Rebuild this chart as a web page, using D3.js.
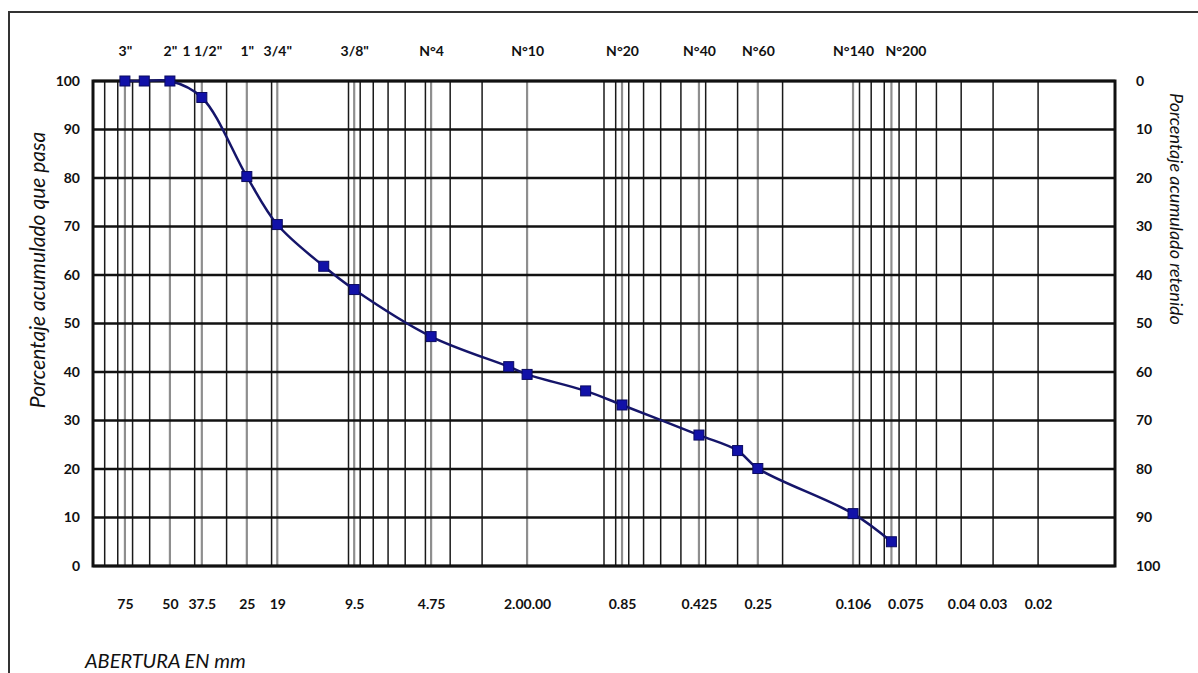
<!DOCTYPE html>
<html>
<head>
<meta charset="utf-8">
<script src="https://cdn.jsdelivr.net/npm/d3@7"></script>
<style>
  body { margin: 0; background: #fff; }
  svg { display: block; }
  .tick text { font-family: Lato, "Noto Sans", sans-serif; font-weight: bold; font-size: 14px; fill: #111; }
  .ttl { font-family: Lato, "Noto Sans", sans-serif; font-style: italic; fill: #111; }
</style>
</head>
<body>
<div id="chart"></div>
<script>
// sieve sizes (mm) and cumulative % passing
var sizes   = [75, 63, 50, 37.5, 25, 19, 12.5, 9.5, 4.75, 2.36, 2.00, 1.18, 0.85, 0.425, 0.30, 0.25, 0.106, 0.075];
var passing = [100, 100, 100, 96.6, 80.3, 70.4, 61.8, 57.0, 47.3, 41.1, 39.5, 36.1, 33.2, 27.0, 23.8, 20.1, 10.8, 5.0];

// sieves drawn as grey lines + top names
var sieveSizes = [75, 50, 37.5, 25, 19, 9.5, 4.75, 2.00, 0.85, 0.425, 0.25, 0.106, 0.075];
var sieveNames = ['3"', '2"', '1 1/2"', '1"', '3/4"', '3/8"', 'N°4', 'N°10', 'N°20', 'N°40', 'N°60', 'N°140', 'N°200'];

// bottom labels
var bottomVals   = [75, 50, 37.5, 25, 19, 9.5, 4.75, 2.00, 0.85, 0.425, 0.25, 0.106, 0.075, 0.04, 0.03, 0.02];
var bottomLabels = ["75", "50", "37.5", "25", "19", "9.5", "4.75", "2.00.00", "0.85", "0.425", "0.25", "0.106", "0.075", "0.04", "0.03", "0.02"];

var yTicks = [0, 10, 20, 30, 40, 50, 60, 70, 80, 90, 100];

var W = 1198, H = 673;
var pL = 93, pR = 1115, pT = 81, pB = 566;

var svg = d3.select("#chart").append("svg")
    .attr("width", W).attr("height", H);

svg.append("rect").attr("width", W).attr("height", H).attr("fill", "#fff");
// outer frame
svg.append("rect")
    .attr("x", 9).attr("y", 12).attr("width", W + 20).attr("height", H + 20)
    .attr("fill", "none").attr("stroke", "#333").attr("stroke-width", 2);

var x = d3.scaleLog().domain([100, 0.01]).range([pL, pR]);
var y = d3.scaleLinear().domain([0, 100]).range([pB, pT]);
var yR = d3.scaleLinear().domain([0, 100]).range([pT, pB]);

// log grid (black)
var logGrid = [];
for (var k = -2; k <= 1; k++) {
  for (var m = 1; m <= 9; m++) logGrid.push(m * Math.pow(10, k));
}
svg.append("g").selectAll("line").data(logGrid).enter().append("line")
    .attr("x1", d => x(d)).attr("x2", d => x(d))
    .attr("y1", pT).attr("y2", pB)
    .attr("stroke", "#1a1a1a").attr("stroke-width", 1.5);

// sieve lines (grey)
svg.append("g").selectAll("line").data(sieveSizes).enter().append("line")
    .attr("x1", d => x(d)).attr("x2", d => x(d))
    .attr("y1", pT).attr("y2", pB)
    .attr("stroke", "#8e8e8e").attr("stroke-width", 2.2);

// horizontal lines
svg.append("g").selectAll("line").data(yTicks).enter().append("line")
    .attr("x1", pL).attr("x2", pR)
    .attr("y1", d => y(d)).attr("y2", d => y(d))
    .attr("stroke", "#111").attr("stroke-width", 2.5);

svg.append("rect")
    .attr("x", pL).attr("y", pT).attr("width", pR - pL).attr("height", pB - pT)
    .attr("fill", "none").attr("stroke", "#111").attr("stroke-width", 3);

// axes
svg.append("g").attr("transform", "translate(" + (pL - 10) + ",0)")
    .call(d3.axisLeft(y).tickValues(yTicks).tickSize(0))
    .call(g => g.select(".domain").remove());

svg.append("g").attr("transform", "translate(" + (pR + 18) + ",0)")
    .call(d3.axisRight(yR).tickValues(yTicks).tickSize(0))
    .call(g => g.select(".domain").remove());

svg.append("g").attr("transform", "translate(0," + (pB + 30) + ")")
    .call(d3.axisBottom(x).tickValues(bottomVals).tickSize(0).tickFormat((d, i) => bottomLabels[i]))
    .call(g => g.select(".domain").remove())
    .selectAll("text").attr("dx", d => d === 0.075 ? 14 : 0);

svg.append("g").attr("transform", "translate(0," + (pT - 22) + ")")
    .call(d3.axisTop(x).tickValues(sieveSizes).tickSize(0).tickFormat((d, i) => sieveNames[i]))
    .call(g => g.select(".domain").remove())
    .selectAll("text").attr("dx", d => d === 0.075 ? 14 : 0);

// curve
var pts = sizes.map((s, i) => [x(s), y(passing[i])]);
svg.append("path")
    .attr("d", d3.line().curve(d3.curveCatmullRom.alpha(0.5))(pts))
    .attr("fill", "none").attr("stroke", "#15156a").attr("stroke-width", 2.5);

svg.append("g").selectAll("rect").data(pts).enter().append("rect")
    .attr("x", d => d[0] - 5).attr("y", d => d[1] - 5)
    .attr("width", 10).attr("height", 10)
    .attr("fill", "#1111a8").attr("stroke", "#0a0a60").attr("stroke-width", 1);

// titles
svg.append("text").attr("class", "ttl")
    .attr("transform", "translate(45,270) rotate(-90)")
    .attr("text-anchor", "middle").attr("font-size", 21)
    .text("Porcentaje acumulado que pasa");

svg.append("text").attr("class", "ttl")
    .attr("transform", "translate(1170,93) rotate(90)")
    .attr("text-anchor", "start").attr("font-size", 18)
    .text("Porcentaje acumulado retenido");

svg.append("text").attr("class", "ttl")
    .attr("x", 85).attr("y", 668).attr("font-size", 20)
    .text("ABERTURA EN mm");
</script>
</body>
</html>
